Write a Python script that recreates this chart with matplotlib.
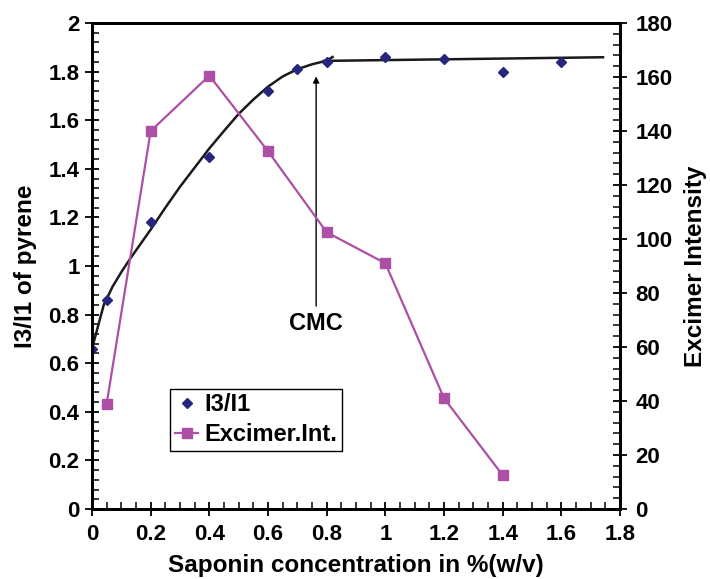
import matplotlib
matplotlib.use('Agg')
import matplotlib.pyplot as plt
from matplotlib.ticker import MultipleLocator

plt.rcParams['font.family'] = ['Liberation Sans', 'DejaVu Sans']
plt.rcParams['font.weight'] = 'bold'

# I3/I1 ratio (left axis)
conc_ratio = [0, 0.05, 0.2, 0.4, 0.6, 0.7, 0.8, 1.0, 1.2, 1.4, 1.6]
ratio = [0.66, 0.86, 1.18, 1.45, 1.72, 1.81, 1.84, 1.86, 1.85, 1.80, 1.84]

# excimer intensity (right axis)
conc_exc = [0.05, 0.2, 0.4, 0.6, 0.8, 1.0, 1.2, 1.4]
excimer = [39, 140, 160.5, 132.5, 102.5, 91, 41, 12.5]

# hand drawn trend lines
trend_x = [-0.01, 0.0, 0.02, 0.04, 0.07, 0.1, 0.13, 0.2, 0.25, 0.3, 0.35, 0.4,
           0.45, 0.5, 0.55, 0.6, 0.65, 0.7, 0.75, 0.8, 0.82]
trend_y = [0.61, 0.66, 0.75, 0.84, 0.915, 0.975, 1.03, 1.15, 1.24, 1.326, 1.405, 1.484,
           1.556, 1.626, 1.685, 1.738, 1.78, 1.81, 1.83, 1.845, 1.86]
flat_x = [0.79, 1.742]
flat_y = [1.844, 1.859]

navy = '#26267f'
magenta = '#ad4fa5'

fig = plt.figure(figsize=(7.1, 5.79), dpi=100)
ax = fig.add_axes([0.1296, 0.1209, 0.7437, 0.8394])
ax2 = ax.twinx()

ax.plot(trend_x, trend_y, color='#1a1a1a', lw=1.8, zorder=2)
ax.plot(flat_x, flat_y, color='#1a1a1a', lw=1.8, zorder=2)
h1, = ax.plot(conc_ratio, ratio, linestyle='none', marker='D', ms=5, color=navy, label='I3/I1', zorder=3)
h2, = ax2.plot(conc_exc, excimer, color=magenta, lw=1.6, marker='s', ms=7, label='Excimer.Int.')

ax.annotate('', xy=(0.764, 1.78), xytext=(0.764, 0.835),
            arrowprops=dict(arrowstyle='-|>', color='black', lw=1, mutation_scale=9, shrinkA=0, shrinkB=0))
ax.text(0.764, 0.764, 'CMC', ha='center', va='center', fontsize=17, fontweight='bold')

ax.set_xlim(0, 1.8)
ax.set_ylim(0, 2)
ax2.set_ylim(0, 180)
ax.xaxis.set_minor_locator(MultipleLocator(0.05))
ax.yaxis.set_minor_locator(MultipleLocator(0.04))
ax2.yaxis.set_major_locator(MultipleLocator(20))
ax2.yaxis.set_minor_locator(MultipleLocator(4))
ax.set_xticks([0, 0.2, 0.4, 0.6, 0.8, 1.0, 1.2, 1.4, 1.6, 1.8])
ax.set_xticklabels(['0', '0.2', '0.4', '0.6', '0.8', '1', '1.2', '1.4', '1.6', '1.8'])
ax.set_yticks([0, 0.2, 0.4, 0.6, 0.8, 1.0, 1.2, 1.4, 1.6, 1.8, 2.0])
ax.set_yticklabels(['0', '0.2', '0.4', '0.6', '0.8', '1', '1.2', '1.4', '1.6', '1.8', '2'])

for a in (ax, ax2):
    for s in a.spines.values():
        s.set_linewidth(2)
    a.tick_params(which='major', direction='inout', length=10, width=1.3, labelsize=16, pad=4)
    a.tick_params(which='minor', direction='in', length=5, width=1.1)
ax.tick_params(axis='x', which='both', top=False, pad=6)
ax2.tick_params(axis='y', which='major', pad=6)

ax.set_xlabel('Saponin concentration in %(w/v)', fontsize=17.5, fontweight='bold', labelpad=6)
ax.set_ylabel('I3/I1 of pyrene', fontsize=17.5, fontweight='bold', labelpad=8)
ax2.set_ylabel('Excimer Intensity', fontsize=17.5, fontweight='bold', labelpad=8)

leg = ax.legend(handles=[h1, h2], loc='lower left', bbox_to_anchor=(0.148, 0.119),
                borderaxespad=0, fancybox=False, edgecolor='black', framealpha=1,
                prop={'size': 17, 'weight': 'bold'}, handlelength=1.0, handletextpad=0.25,
                labelspacing=0.3, borderpad=0.2)
leg.get_frame().set_linewidth(1)
leg.set_zorder(5)

plt.savefig('out.png', dpi=100)
plt.close()
